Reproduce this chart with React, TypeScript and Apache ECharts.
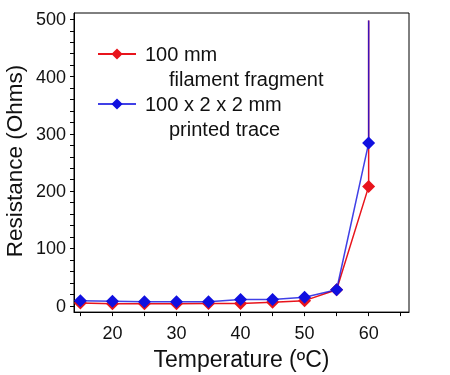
import React, { useEffect, useRef } from "react";
import * as echarts from "echarts";

const temps = [15, 20, 25, 30, 35, 40, 45, 50, 55, 60];
const filamentR = [5, 3.5, 3.5, 3.5, 4, 4, 6, 9, 28, 208];
const traceR = [9, 8, 7, 7, 7, 11, 11, 15, 28, 284];
const ceiling = 498; // vertical jump at 60 °C
const xLabels = [20, 30, 40, 50, 60];
const xTicks = [15, 20, 25, 30, 35, 40, 45, 50, 55, 60, 65];
const yLabels = [0, 100, 200, 300, 400, 500];
const yTicks = Array.from({ length: 26 }, (_, i) => i * 20);

const seriesNames = ["100 mm", "100 x 2 x 2 mm"];
const seriesSub = ["filament fragment", "printed trace"];
const yTitle = "Resistance (Ohms)";
const xTitle = "Temperature (ºC)";
const colors = ["#e8141c", "#1010e0"];

const FONT = "Liberation Sans";

function buildData(vals: number[]) {
  const d: any[] = temps.map((t, i) => [t, vals[i]]);
  d.push({ value: [60, ceiling], symbol: "none" });
  return d;
}

export default function App() {
  const ref = useRef<HTMLDivElement>(null);
  useEffect(() => {
    const chart = echarts.init(ref.current!, null, { renderer: "svg" });
    chart.setOption({
      animation: false,
      textStyle: { fontFamily: FONT },
      grid: {
        left: 74,
        right: 41,
        top: 13,
        bottom: 61,
        show: true,
        borderColor: "#000",
        borderWidth: 1,
      },
      legend: {
        orient: "vertical",
        left: 97,
        top: 44,
        padding: 0,
        itemWidth: 38,
        itemHeight: 14,
        itemGap: 30,
        data: seriesNames,
        textStyle: { fontSize: 20, color: "#111", fontFamily: FONT, padding: [0, 0, 0, 4] },
      },
      graphic: [
        { type: "text", left: 169, top: 69, style: { text: seriesSub[0], font: `20px ${FONT}`, fill: "#111" } },
        { type: "text", left: 169, top: 119, style: { text: seriesSub[1], font: `20px ${FONT}`, fill: "#111" } },
        {
          type: "text",
          x: 14,
          y: 161,
          rotation: Math.PI / 2,
          style: {
            text: yTitle,
            font: `22.5px ${FONT}`,
            fill: "#111",
            align: "center",
            verticalAlign: "middle",
          },
        },
      ],
      xAxis: {
        type: "value",
        min: 14,
        max: 66.3,
        name: xTitle,
        nameLocation: "middle",
        nameGap: 34,
        nameTextStyle: { fontSize: 23, color: "#111", fontFamily: FONT },
        axisLine: { onZero: false, lineStyle: { color: "#000", width: 1 } },
        axisTick: { show: true, length: 4, customValues: xTicks, lineStyle: { color: "#000" } },
        axisLabel: { customValues: xLabels, fontSize: 18, color: "#111", margin: 12 },
        splitLine: { show: false },
      },
      yAxis: {
        type: "value",
        min: -11,
        max: 511,
        axisLine: { onZero: false, lineStyle: { color: "#000", width: 1 } },
        axisTick: { show: true, length: 4, customValues: yTicks, lineStyle: { color: "#000" } },
        axisLabel: { customValues: yLabels, fontSize: 18, color: "#111", margin: 8 },
        splitLine: { show: false },
      },
      series: [
        {
          name: seriesNames[0],
          type: "line",
          data: buildData(filamentR),
          symbol: "diamond",
          symbolSize: 13,
          color: colors[0],
          lineStyle: { width: 1.5, color: colors[0] },
          itemStyle: { color: colors[0] },
        },
        {
          name: seriesNames[1],
          type: "line",
          data: buildData(traceR),
          symbol: "diamond",
          symbolSize: 13,
          color: colors[1],
          lineStyle: { width: 1.5, color: colors[1], opacity: 0.8 },
          itemStyle: { color: colors[1] },
        },
      ],
    });
    return () => chart.dispose();
  }, []);
  return (
    <div
      ref={ref}
      style={{ position: "fixed", left: 0, top: 0, width: 450, height: 375 }}
    />
  );
}
